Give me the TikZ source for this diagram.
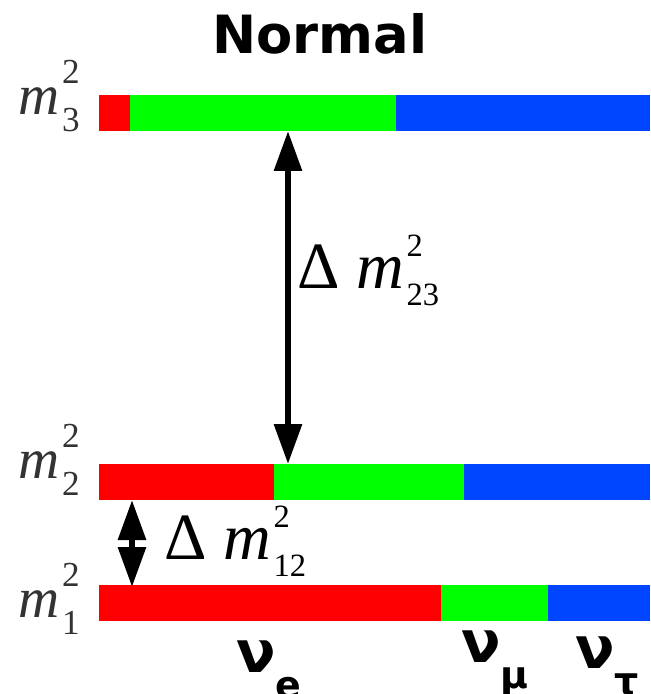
\documentclass[tikz,border=0pt]{standalone}
\usepackage{fontspec}
\setmainfont{Liberation Serif}
\newfontfamily\flavfont{DejaVu Sans}
\usetikzlibrary{arrows.meta}
\definecolor{barred}{rgb}{1,0,0}
\definecolor{bargreen}{rgb}{0,1,0}
\definecolor{barblue}{rgb}{0,0.27,1}
\definecolor{labgray}{rgb}{0.2,0.2,0.2}
% mass labels m_i^2 and Delta m_ij^2
\newcommand{\msq}[1]{\fontsize{32.4}{36}\selectfont\itshape m\upshape\hspace{1.5pt}%
\makebox[0pt][l]{\raisebox{17.2pt}{\fontsize{20}{22}\selectfont 2}}%
\raisebox{-10pt}{\fontsize{20}{22}\selectfont #1}}
\newcommand{\dmsq}[1]{\fontsize{37.6}{40}\selectfont Δ\ \itshape m\upshape\hspace{1.5pt}%
\makebox[0pt][l]{\raisebox{17.7pt}{\fontsize{18.5}{20}\selectfont 2}}%
\raisebox{-9.8pt}{\fontsize{18.5}{20}\selectfont #1}}
\newcommand{\flav}[2]{\flavfont\bfseries\fontsize{33}{36}\selectfont #1%
\raisebox{-14.8pt}{\fontsize{21.6}{24}\selectfont #2}}

\begin{document}
\begin{tikzpicture}[x=0.02cm,y=-0.02cm,
  dmarrow/.style={line width=0.12cm,
    {Triangle[width=0.54cm,length=0.8cm]}-{Triangle[width=0.54cm,length=0.8cm]}}]
\useasboundingbox (0,0) rectangle (650,694);

% Title
\node[anchor=base,font=\flavfont\bfseries\fontsize{30}{34}\selectfont] (title) at (320,53) {Normal};

% m_3^2 level (top)
\fill[barred] (99,95) rectangle (130,131);
\fill[bargreen] (130,95) rectangle (396,131);
\fill[barblue] (396,95) rectangle (650,131);
\node[anchor=base west,text=labgray,inner sep=0pt] (m3) at (18,114) {\msq{3}};

% m_2^2 level (middle)
\fill[barred] (99,464) rectangle (274,500);
\fill[bargreen] (274,464) rectangle (464,500);
\fill[barblue] (464,464) rectangle (650,500);
\node[anchor=base west,text=labgray,inner sep=0pt] (m2) at (18,478) {\msq{2}};

% m_1^2 level (bottom)
\fill[barred] (99,585) rectangle (441,621);
\fill[bargreen] (441,585) rectangle (548,621);
\fill[barblue] (548,585) rectangle (650,621);
\node[anchor=base west,text=labgray,inner sep=0pt] (m1) at (18,617) {\msq{1}};

% Splittings
\coordinate (s23top) at (288,131);
\coordinate (s23bot) at (288,464);
\draw[dmarrow] (s23top) -- (s23bot);
\node[anchor=base west,inner sep=0pt] (dm23) at (297,288) {\dmsq{23}};

\coordinate (s12top) at (132,500);
\coordinate (s12bot) at (132,587);
\draw[dmarrow] (s12top) -- (s12bot);
\node[anchor=base west,inner sep=0pt] (dm12) at (164,559) {\dmsq{12}};

% Flavour labels
\node[anchor=base west,inner sep=0pt] (nue) at (236,672) {\flav{ν}{e}};
\node[anchor=base west,inner sep=0pt] (numu) at (461,662) {\flav{ν}{μ}};
\node[anchor=base west,inner sep=0pt] (nutau) at (575,668) {\flav{ν}{τ}};
\end{tikzpicture}
\end{document}
